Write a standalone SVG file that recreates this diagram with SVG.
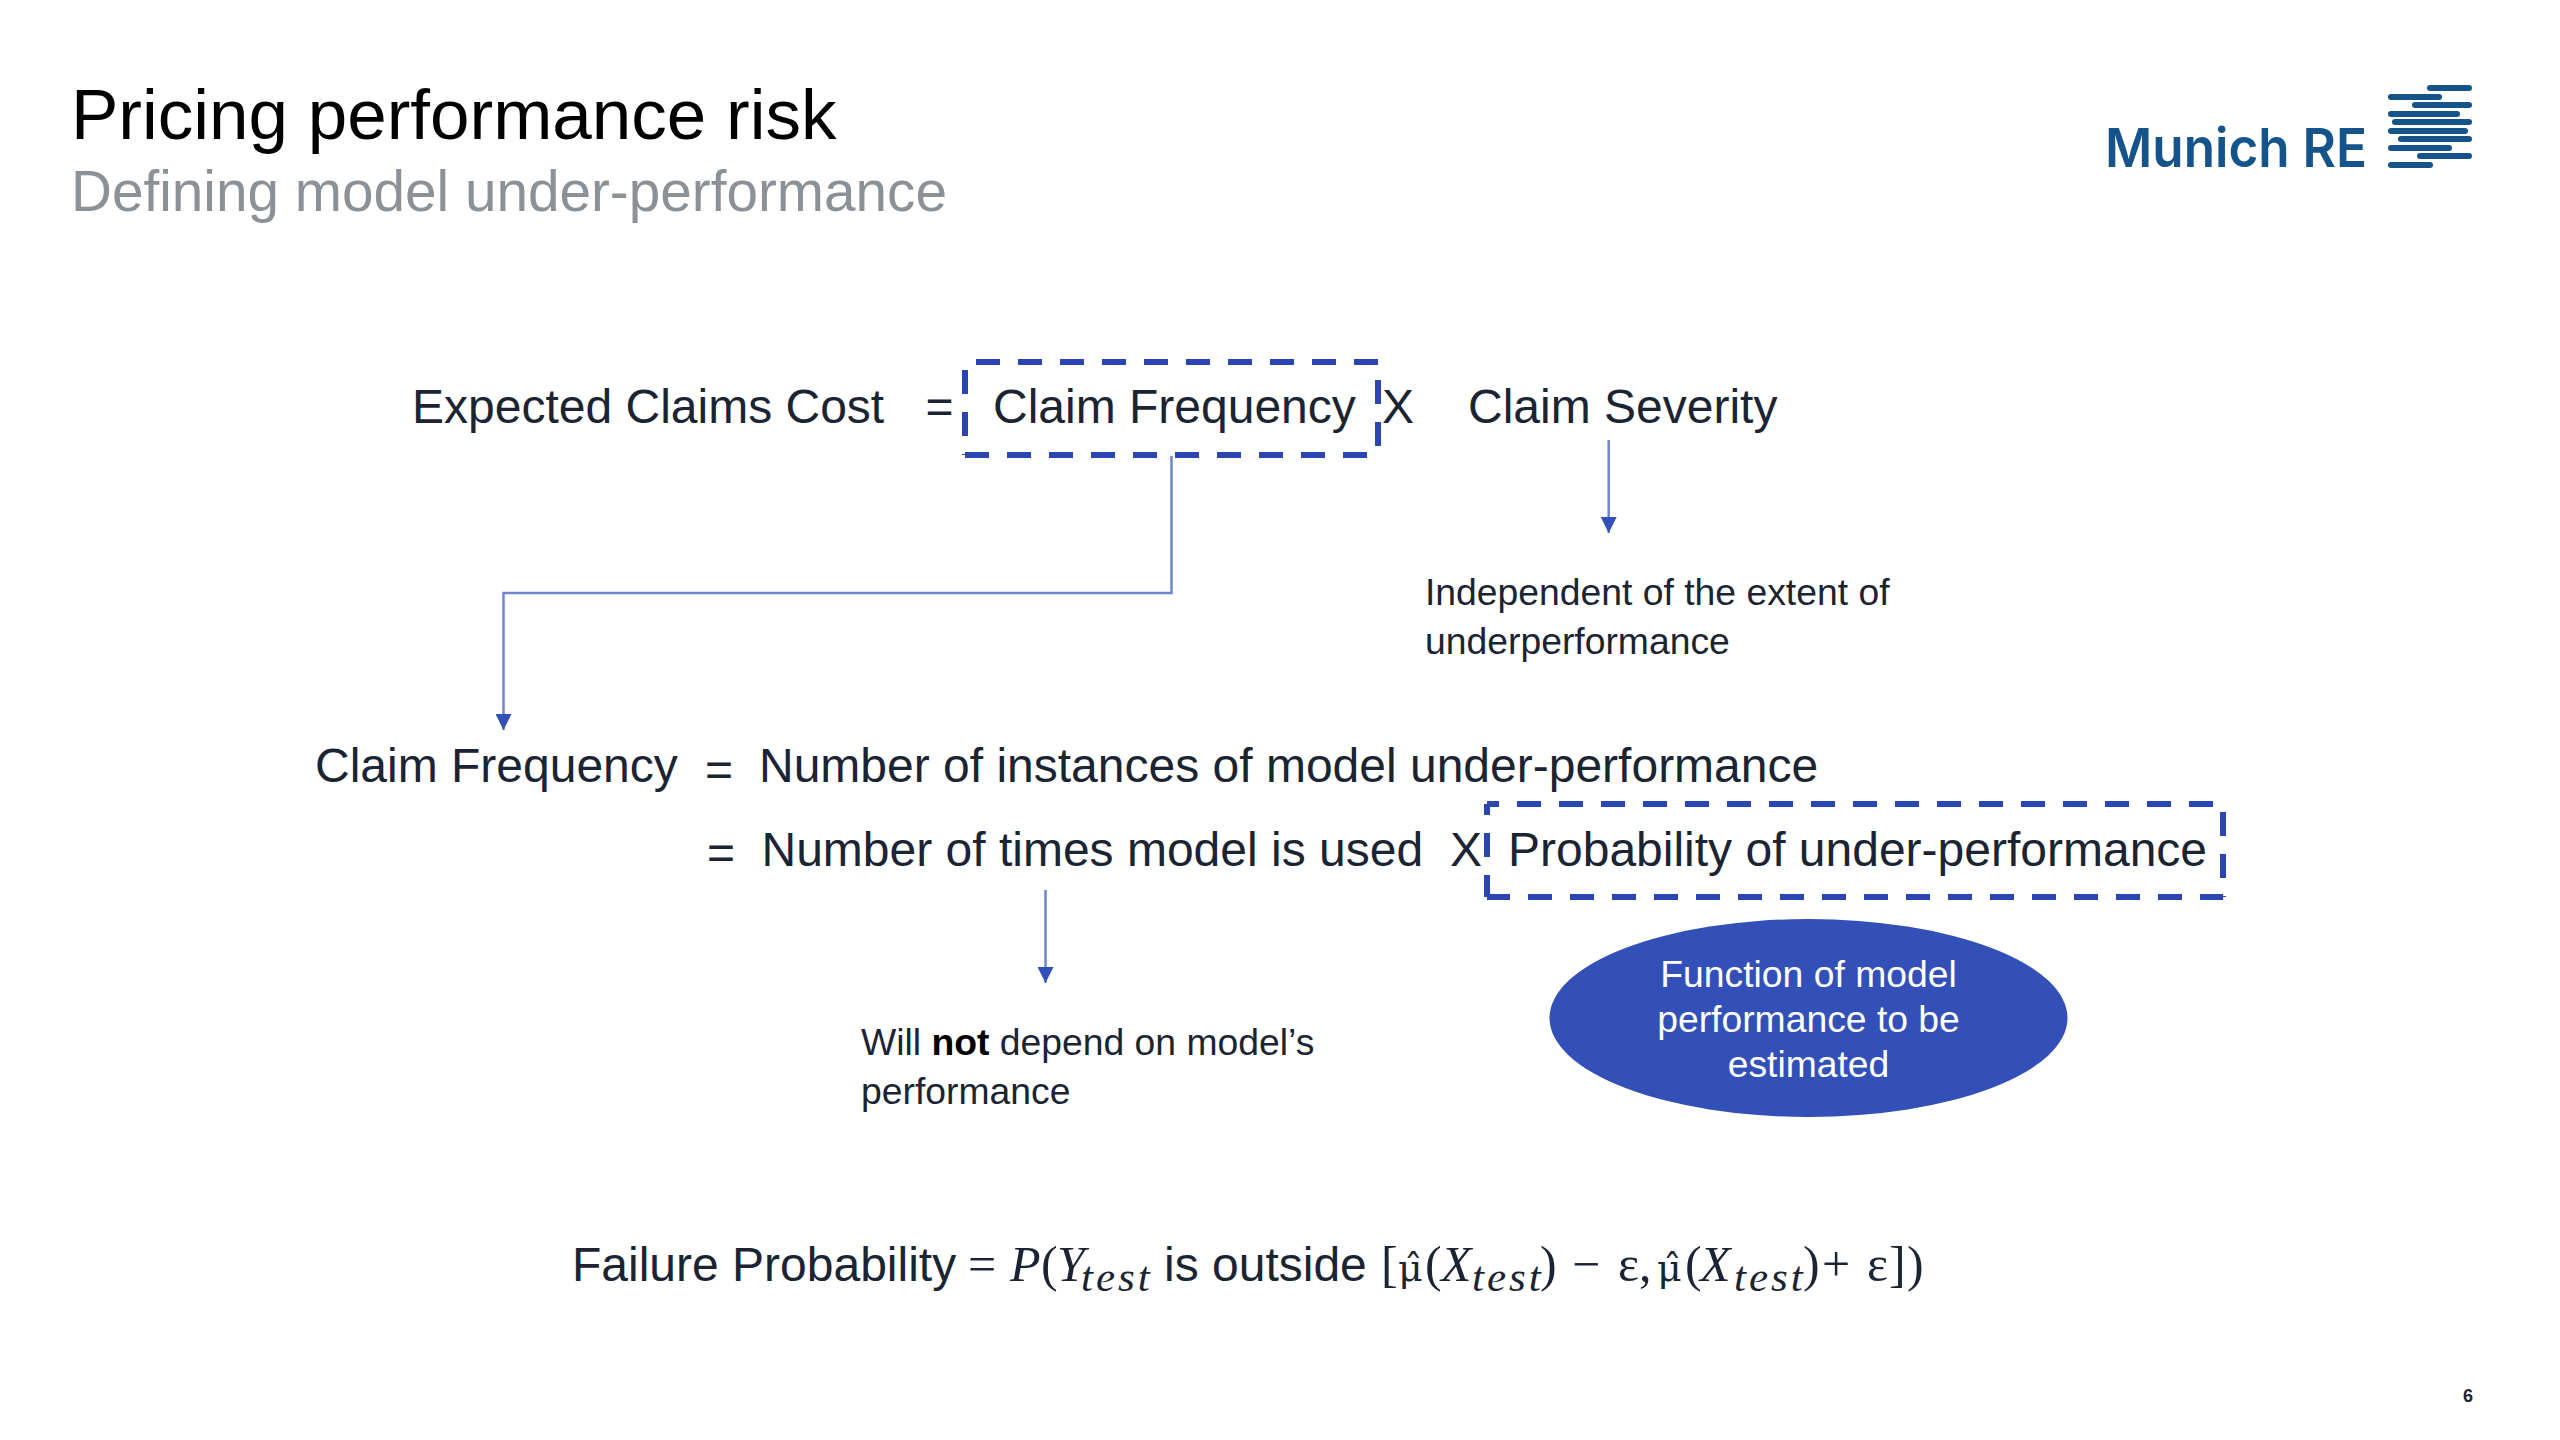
<svg xmlns="http://www.w3.org/2000/svg" width="2560" height="1440" viewBox="0 0 2560 1440">
<style>
text{font-family:"Liberation Sans",Arial,sans-serif;fill:#1b2433}
.m{font-size:48px}
.s{font-size:37.3px}
.w{font-size:37.3px;fill:#fff;text-anchor:middle}
.math{font-family:"Liberation Serif","DejaVu Serif",serif;font-size:50px}
.i{font-style:italic}
.sub{font-family:"Liberation Serif","DejaVu Serif",serif;font-style:italic;font-size:43px;letter-spacing:3px}
.mu{font-family:"DejaVu Serif",serif;font-size:38px}
.dash{fill:none;stroke:#2b46b3;stroke-width:6;stroke-dasharray:24 18}
.conn{fill:none;stroke:#6f85d2;stroke-width:2.5;marker-end:url(#a)}
.logo{fill:#14548a}
</style>
<defs><marker id="a" markerUnits="userSpaceOnUse" markerWidth="16" markerHeight="16" refX="16" refY="8" orient="auto" viewBox="0 0 16 16"><path d="M0 0L16 8L0 16Z" fill="#3350b8"/></marker></defs>
<rect width="2560" height="1440" fill="#fff"/>
<text id="title" x="71" y="139" font-size="71" style="fill:#000">Pricing performance risk</text>
<text id="subtitle" x="71" y="211" font-size="56.7" style="fill:#8c9196">Defining model under-performance</text>
<g id="logo">
<text x="2105" y="167" font-size="54" font-weight="600" style="fill:#14548a;font-family:'Inter','Liberation Sans',sans-serif" textLength="262" lengthAdjust="spacingAndGlyphs">Munich RE</text>
<rect class="logo" x="2427" y="85" width="45" height="6" rx="3"/>
<rect class="logo" x="2388" y="94" width="54" height="6" rx="3"/>
<rect class="logo" x="2412" y="102" width="60" height="6" rx="3"/>
<rect class="logo" x="2388" y="111" width="72" height="6" rx="3"/>
<rect class="logo" x="2392" y="119" width="80" height="6" rx="3"/>
<rect class="logo" x="2388" y="128" width="80" height="6" rx="3"/>
<rect class="logo" x="2398" y="136" width="74" height="6" rx="3"/>
<rect class="logo" x="2388" y="145" width="64" height="6" rx="3"/>
<rect class="logo" x="2417" y="153" width="55" height="6" rx="3"/>
<rect class="logo" x="2388" y="162" width="45" height="6" rx="3"/>
</g>
<g id="connectors">
<path class="conn" d="M1171.5 456V593H503.5V730"/>
<path class="conn" d="M1608.7 440V533"/>
<path class="conn" d="M1045.5 890V983"/>
</g>
<g id="eq1">
<text class="m" x="412" y="423">Expected Claims Cost</text>
<text class="m" x="925.5" y="423">=</text>
<text class="m" x="993" y="423">Claim Frequency</text>
<text class="m" x="1382" y="423">X</text>
<text class="m" x="1468" y="423">Claim Severity</text>
</g>
<g id="freqBox">
<path class="dash" d="M965 362H1378" stroke-dashoffset="31"/>
<path class="dash" d="M1378 362V455" stroke-dashoffset="24"/>
<path class="dash" d="M965 455H1378" stroke-dashoffset="0"/>
<path class="dash" d="M965 362V455" stroke-dashoffset="34"/>
</g>
<g id="severityNote">
<text class="s" x="1425" y="605">Independent of the extent of</text>
<text class="s" x="1425" y="654">underperformance</text>
</g>
<g id="eq2">
<text class="m" x="315" y="782">Claim Frequency</text>
<text class="m" x="705" y="786">=</text>
<text class="m" x="759" y="782">Number of instances of model under-performance</text>
<text class="m" x="707" y="869">=</text>
<text class="m" x="761.5" y="866">Number of times model is used</text>
<text class="m" x="1450" y="866">X</text>
<text class="m" x="1508" y="866">Probability of under-performance</text>
</g>
<g id="probBox">
<path class="dash" d="M1487 804H2223" stroke-dashoffset="12"/>
<path class="dash" d="M2223 804V897" stroke-dashoffset="34"/>
<path class="dash" d="M1487 897H2223" stroke-dashoffset="1"/>
<path class="dash" d="M1487 804V897" stroke-dashoffset="13"/>
</g>
<g id="notNote">
<text class="s" x="861" y="1055">Will <tspan font-weight="700" style="fill:#000">not</tspan> depend on model’s</text>
<text class="s" x="861" y="1104">performance</text>
</g>
<g id="ellipse">
<ellipse cx="1808.5" cy="1018" rx="259" ry="99" fill="#3350b8"/>
<text class="w" x="1808.5" y="987">Function of model</text>
<text class="w" x="1808.5" y="1032">performance to be</text>
<text class="w" x="1808.5" y="1077">estimated</text>
</g>
<g id="formula">
<text class="m" x="572" y="1281">Failure Probability</text>
<text class="math" x="968" y="1281">=</text>
<text class="math i" x="1010" y="1281">P</text>
<text class="math" x="1041" y="1281">(</text>
<text class="math i" x="1057" y="1281">Y</text>
<text class="sub" x="1081" y="1291">test</text>
<text class="m" x="1164" y="1281">is outside</text>
<text class="math" x="1381" y="1281">[</text>
<text class="mu" x="1398" y="1281">μ̂</text>
<text class="math" x="1425" y="1281">(</text>
<text class="math i" x="1441" y="1281">X</text>
<text class="sub" x="1472" y="1291">test</text>
<text class="math" x="1540" y="1281">)</text>
<text class="math" x="1572" y="1281">−</text>
<text class="math" x="1618" y="1281">ε,</text>
<text class="mu" x="1657" y="1281">μ̂</text>
<text class="math" x="1685" y="1281">(</text>
<text class="math i" x="1700" y="1281">X</text>
<text class="sub" x="1734" y="1291">test</text>
<text class="math" x="1803" y="1281">)</text>
<text class="math" x="1822" y="1281">+</text>
<text class="math" x="1867" y="1281">ε</text>
<text class="math" x="1889" y="1281">]</text>
<text class="math" x="1907" y="1281">)</text>
</g>
<text id="pagenum" x="2463" y="1402" font-size="18" font-weight="700">6</text>
</svg>
